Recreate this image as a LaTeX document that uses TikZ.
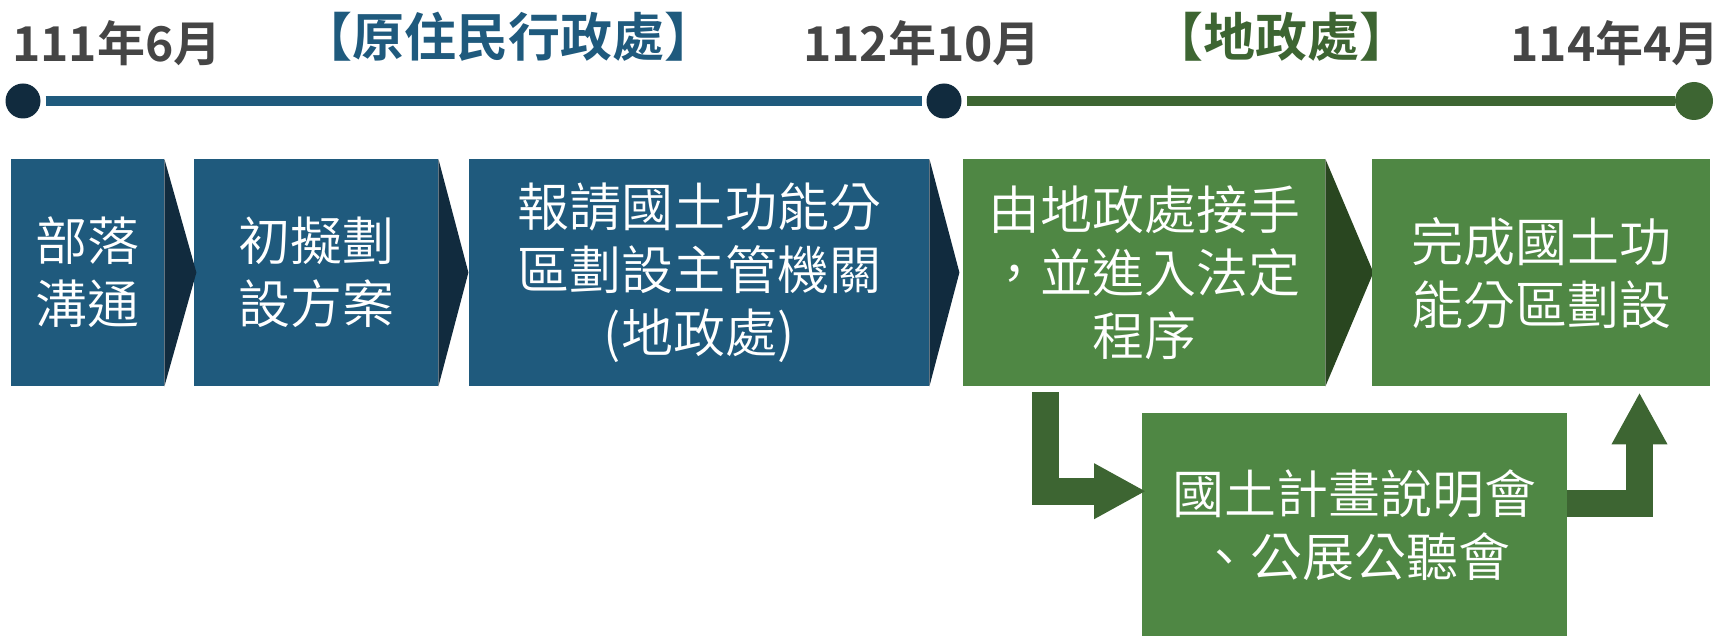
\documentclass[tikz,border=0pt]{standalone}
\usepackage{fontspec}
\setmainfont{Noto Sans CJK TC}[UprightFont=* DemiLight, BoldFont=* Bold]
\usetikzlibrary{arrows.meta,calc,positioning}
\definecolor{boxblue}{HTML}{1F5A7D}
\definecolor{bluedark}{HTML}{112B3E}
\definecolor{boxgreen}{HTML}{4F8744}
\definecolor{greendark}{HTML}{294620}
\definecolor{linegreen}{HTML}{3D6532}
\definecolor{dategray}{HTML}{454545}

\begin{document}
\begin{tikzpicture}[x=1pt,y=1pt,
  box/.style={anchor=north west, inner sep=0pt, minimum height=227pt, text=white, align=center, font=\fontsize{52}{63}\selectfont},
  bluebox/.style={box, fill=boxblue},
  greenbox/.style={box, fill=boxgreen},
  dot/.style={circle, inner sep=0pt, outer sep=0pt, minimum size=35pt, fill=bluedark},
  datelabel/.style={text=dategray, inner sep=0pt, font=\fontsize{48}{58}\selectfont\bfseries},
  phase/.style={inner sep=0pt, font=\fontsize{52}{62}\selectfont\bfseries},
  bendarrow/.style={draw=linegreen, line width=27pt, line join=miter, -{Triangle[length=52pt,width=52pt]}}]
\useasboundingbox (0,0) rectangle (1721,-636);

% timeline
\node[dot] (d1) at (23,-101) {};
\node[dot] (d2) at (944,-101) {};
\node[dot, fill=linegreen, minimum size=38pt] (d3) at (1694,-101) {};
\draw[line width=10.5pt, boxblue, shorten <=5pt, shorten >=4.5pt] (d1) -- (d2);
\draw[line width=10.5pt, linegreen, shorten <=5.5pt] (d2) -- (d3);

\node[datelabel, anchor=base west] (t1) at (12,-62) {111年6月};
\node[datelabel, anchor=base] (t2) at (922,-62) {112年10月};
\node[datelabel, anchor=base east] (t3) at (1720,-62) {114年4月};
\node[phase, text=boxblue] (h1) at (508,-37) {【原住民行政處】};
\node[phase, text=linegreen] (h2) at (1281,-37) {【地政處】};

% steps
\node[bluebox, minimum width=153pt] (b1) at (11,-159) {部落\\溝通};
\node[bluebox, minimum width=244pt] (b2) at (194,-159) {初擬劃\\設方案};
\node[bluebox, minimum width=460pt] (b3) at (469,-159) {報請國土功能分\\區劃設主管機關\\(地政處)};
\node[greenbox, minimum width=362pt] (b4) at (963,-159) {由地政處接手\\，並進入法定\\程序};
\foreach \b/\w in {b1/32,b2/30,b3/30}
  \fill[bluedark] (\b.north east) -- ++(\w,-113.5) -- (\b.south east) -- cycle;
\fill[greendark] (b4.north east) -- ++(48,-113.5) -- (b4.south east) -- cycle;
\node[greenbox, minimum width=338pt] (b5) at (1372,-159) {完成國土功\\能分區劃設};
\node[greenbox, minimum width=425pt, minimum height=223pt] (b6) at (1142,-413) {國土計畫說明會\\、公展公聽會};

\draw[bendarrow] ($(b4.south west)+(82.5,-6)$) |- ([xshift=4pt,yshift=33.5pt]b6.west);
\draw[bendarrow] ([yshift=21.5pt]b6.east) -| ($(b5.south west)+(267.5,-6)$);
\end{tikzpicture}
\end{document}
